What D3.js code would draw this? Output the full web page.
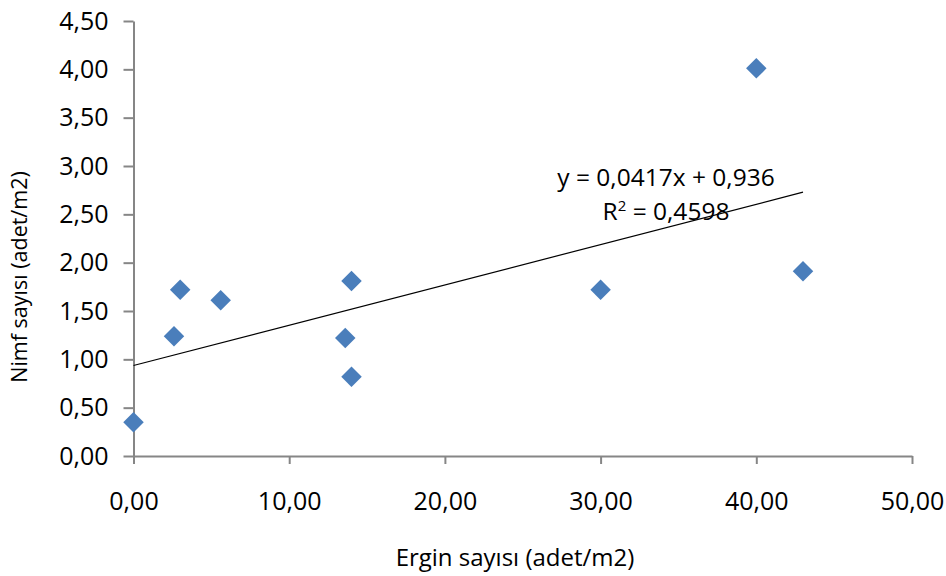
<!DOCTYPE html>
<html>
<head>
<meta charset="utf-8">
<script src="https://cdn.jsdelivr.net/npm/d3@7"></script>
<style>
  body { margin: 0; background: #fff; }
  svg text { font-family: 'Open Sans', sans-serif; fill: #000; }
</style>
</head>
<body>
<div id="graph"></div>
<script>
// Ergin (x) vs Nimf (y)
var ergin = [0, 2.6, 3.0, 5.6, 13.6, 14.0, 14.0, 30.0, 40.0, 43.0]
var nimf  = [0.35, 1.24, 1.72, 1.61, 1.22, 1.81, 0.82, 1.72, 4.01, 1.91]
var xTicks = [0, 10, 20, 30, 40, 50]
var yTicks = [0, 0.5, 1, 1.5, 2, 2.5, 3, 3.5, 4, 4.5]
var slope = 0.0417, intercept = 0.936, r2 = '0,4598'

var width = 946, height = 576
var margin = {top: 21, left: 133.5, right: 34, bottom: 120}

var svg = d3.select('#graph').append('svg')
  .attr('width', width).attr('height', height)

var x = d3.scaleLinear().domain([0, 50]).range([margin.left, width - margin.right])
var y = d3.scaleLinear().domain([0, 4.5]).range([height - margin.bottom, margin.top])

var fmt = d => d3.format('.2f')(d).replace('.', ',')

var xAxis = svg.append('g')
  .attr('transform', `translate(0,${y(0)})`)
  .call(d3.axisBottom(x).tickValues(xTicks).tickFormat(fmt).tickSize(8).tickSizeOuter(0).tickPadding(28))
var yAxis = svg.append('g')
  .attr('transform', `translate(${x(0)},0)`)
  .call(d3.axisLeft(y).tickValues(yTicks).tickFormat(fmt).tickSize(10).tickSizeOuter(0).tickPadding(15))

;[xAxis, yAxis].forEach(a => {
  a.selectAll('path, line').attr('stroke', '#868686').attr('stroke-width', 2)
  a.selectAll('text').style('font-size', '25px')
})

// trend line across the data range
var xMax = d3.max(ergin)
svg.append('line')
  .attr('x1', x(0)).attr('y1', y(intercept))
  .attr('x2', x(xMax)).attr('y2', y(intercept + slope*xMax))
  .attr('stroke', '#000').attr('stroke-width', 1.2)

var pts = ergin.map((d, i) => [d, nimf[i]])
svg.selectAll('path.dot').data(pts).enter().append('path')
  .attr('class', 'dot')
  .attr('d', d3.symbol().type(d3.symbolSquare).size(210))
  .attr('transform', d => `translate(${x(d[0])},${y(d[1])}) rotate(45)`)
  .attr('fill', '#4a7ebb')

svg.append('text')
  .attr('x', 666).attr('y', 186)
  .attr('text-anchor', 'middle')
  .style('font-size', '24.5px')
  .text('y = 0,0417x + 0,936')
svg.append('text')
  .attr('x', 666).attr('y', 220)
  .attr('text-anchor', 'middle')
  .style('font-size', '24.5px')
  .html('R<tspan dy="-9" font-size="15">2</tspan><tspan dy="9"> = ' + r2 + '</tspan>')

svg.append('text')
  .attr('x', 515).attr('y', 566)
  .attr('text-anchor', 'middle')
  .style('font-size', '24px')
  .text('Ergin sayısı (adet/m2)')

svg.append('text')
  .attr('transform', 'translate(27,277) rotate(-90)')
  .attr('text-anchor', 'middle')
  .style('font-size', '21.5px')
  .text('Nimf sayısı (adet/m2)')
</script>
</body>
</html>
